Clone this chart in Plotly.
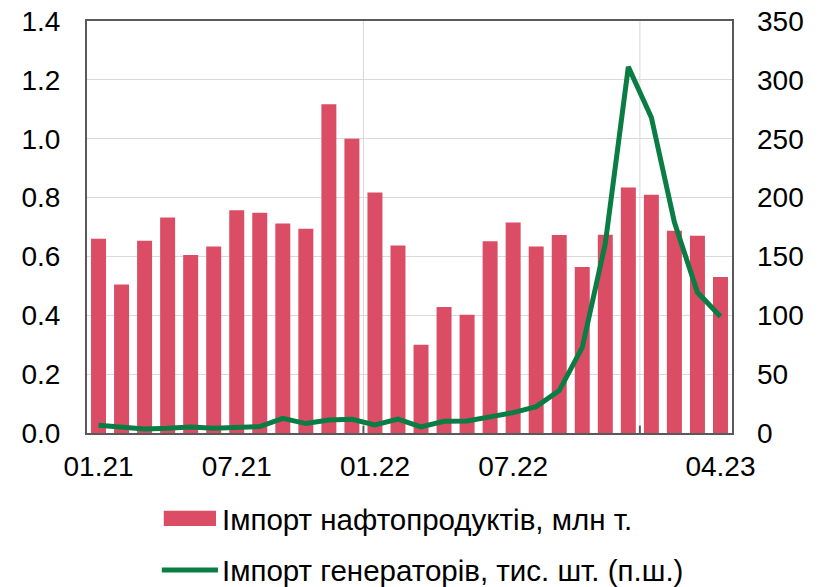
import plotly.graph_objects as go

# months 01.21 .. 04.23
months = ["01.21", "02.21", "03.21", "04.21", "05.21", "06.21", "07.21", "08.21",
          "09.21", "10.21", "11.21", "12.21", "01.22", "02.22", "03.22", "04.22",
          "05.22", "06.22", "07.22", "08.22", "09.22", "10.22", "11.22", "12.22",
          "01.23", "02.23", "03.23", "04.23"]

# fuel imports, mln t (left axis)
fuel = [0.66, 0.505, 0.653, 0.732, 0.605, 0.634, 0.757, 0.748, 0.712, 0.694,
        1.117, 1.0, 0.817, 0.637, 0.30, 0.428, 0.402, 0.652, 0.715, 0.634,
        0.673, 0.564, 0.674, 0.834, 0.81, 0.687, 0.67, 0.53]

# generator imports, thousand units (right axis)
generators = [6.5, 4.8, 3.5, 4, 5, 4, 5, 5.5, 12.5, 8, 11, 11.7, 6.8, 11.8,
              5.2, 10, 10.2, 13.9, 17.3, 22.4, 36, 72.7, 161, 311, 268, 179,
              119.5, 99]

tick_labels = ["01.21", "07.21", "01.22", "07.22", "04.23"]
year_starts = ["01.22", "01.23"]

legend_names = ["Імпорт нафтопродуктів, млн т.",
                "Імпорт генераторів, тис. шт. (п.ш.)"]

BAR_COLOR = "#DB4C65"
LINE_COLOR = "#0A7D44"
GRID = "#D9D9D9"
AXIS = "#595959"
FONT = "Liberation Sans, Arial, sans-serif"

fig = go.Figure()

fig.add_trace(go.Bar(
    x=months, y=fuel, name=legend_names[0],
    marker=dict(color=BAR_COLOR, line=dict(width=0)),
    width=0.65, showlegend=False,
))

fig.add_trace(go.Scatter(
    x=months, y=generators, name=legend_names[1], yaxis="y2",
    mode="lines", line=dict(color=LINE_COLOR, width=5),
    showlegend=False,
))

# vertical gridlines + small ticks between years
shapes = []
for m in year_starts:
    pos = months.index(m) - 0.5
    shapes.append(dict(type="line", xref="x", yref="y domain", x0=pos, x1=pos,
                       y0=0, y1=1, line=dict(color=GRID, width=1), layer="below"))
    shapes.append(dict(type="line", xref="x", yref="y domain", x0=pos, x1=pos,
                       y0=0, y1=0.018, line=dict(color=AXIS, width=2)))

# hand-made legend (wide swatches like the original)
shapes.append(dict(type="rect", xref="paper", yref="paper",
                   x0=0.119, x1=0.200, y0=-0.2257, y1=-0.189,
                   fillcolor=BAR_COLOR, line=dict(width=0)))
shapes.append(dict(type="line", xref="paper", yref="paper",
                   x0=0.116, x1=0.203, y0=-0.3325, y1=-0.3325,
                   line=dict(color=LINE_COLOR, width=5)))

annotations = [
    dict(text=legend_names[0], xref="paper", yref="paper", x=0.206, y=-0.209,
         xanchor="left", yanchor="middle", showarrow=False,
         font=dict(size=29.5, color="black", family=FONT)),
    dict(text=legend_names[1], xref="paper", yref="paper", x=0.206, y=-0.333,
         xanchor="left", yanchor="middle", showarrow=False,
         font=dict(size=29.5, color="black", family=FONT)),
]

fig.update_layout(
    width=823, height=587,
    margin=dict(l=87, r=91, t=21, b=154),
    paper_bgcolor="white", plot_bgcolor="white",
    font=dict(family=FONT, size=28, color="black"),
    showlegend=False,
    shapes=shapes,
    annotations=annotations,
    xaxis=dict(
        type="category", categoryorder="array", categoryarray=months,
        tickmode="array", tickvals=tick_labels, ticktext=tick_labels,
        showgrid=False, ticks="", ticklabelstandoff=7, automargin=False,
        showline=True, linecolor=AXIS, linewidth=2, mirror=True,
        range=[-0.5, len(months) - 0.5],
    ),
    yaxis=dict(
        range=[0, 1.4], dtick=0.2, tickformat=".1f", automargin=False,
        showgrid=True, gridcolor=GRID, gridwidth=1, zeroline=False,
        showline=True, linecolor=AXIS, linewidth=2, mirror=True,
        ticks="", ticklabelstandoff=19,
    ),
    yaxis2=dict(
        range=[0, 350], dtick=50, overlaying="y", side="right", automargin=False,
        showgrid=False, zeroline=False, ticks="", ticklabelstandoff=24,
    ),
)

# drop the default page margin so the 823x587 figure sits at the window corner
fig.write_html("out.html", config={"displayModeBar": False},
               post_script="document.body.style.margin='0';")
